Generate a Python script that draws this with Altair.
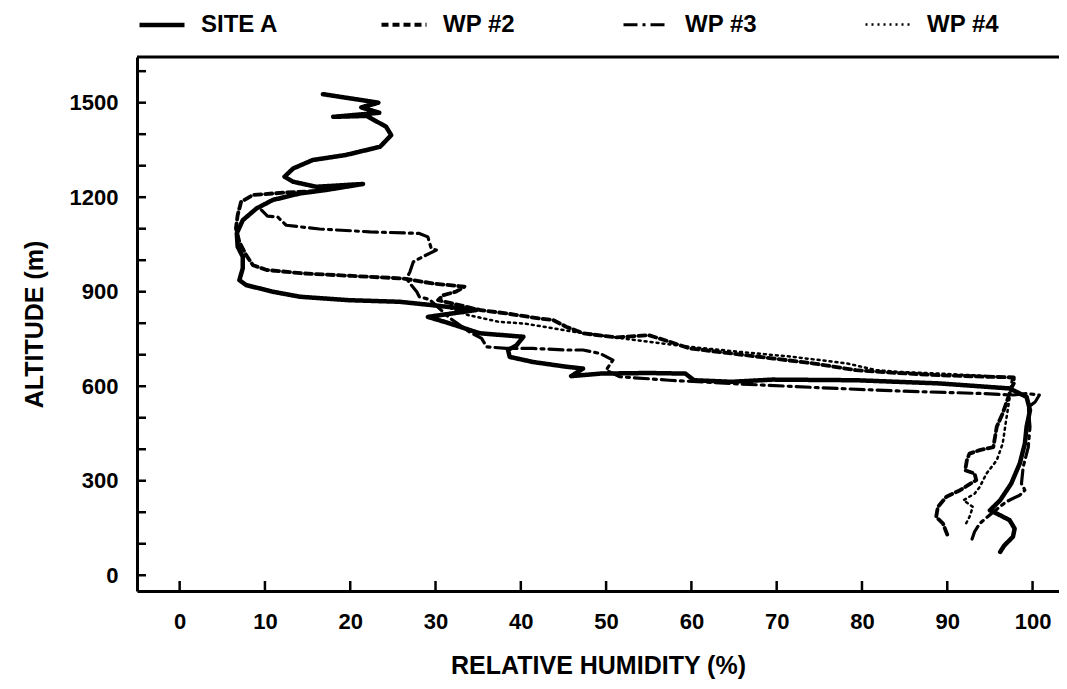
import altair as alt
import pandas as pd

# ---- data (relative humidity %, altitude m), traced top -> bottom ----
site_a_rh = [16.8, 23.3, 21.3, 23.4, 18.0, 21.9, 24.2, 24.8, 23.5, 19.5, 15.6, 13.3, 12.3, 13.3, 16.0, 21.5, 17.2,
             14.1, 10.9, 9.0, 7.4, 6.7, 6.8, 7.4, 7.4, 7.0, 7.8, 10.9, 14.1, 19.9, 25.8, 29.7, 34.8, 29.1, 31.7,
             35.2, 40.3, 39.5, 38.5, 38.7, 41.4, 45.3, 47.3, 45.9, 49.3, 55.0, 59.3, 60.3, 64.7, 69.5, 79.3, 89.0,
             97.3, 99.3, 99.7, 99.3, 99.1, 98.5, 97.5, 96.2, 95.0, 95.8, 97.3, 97.9, 97.7, 96.7, 96.2]
site_a_alt = [1527, 1500, 1485, 1468, 1455, 1458, 1424, 1397, 1360, 1334, 1318, 1291, 1265, 1249, 1233, 1242, 1223,
              1212, 1191, 1164, 1127, 1085, 1043, 1011, 974, 937, 921, 900, 884, 873, 868, 857, 842, 820, 799,
              768, 757, 730, 715, 693, 677, 662, 656, 632, 640, 642, 640, 619, 614, 621, 619, 609,
              593, 566, 524, 471, 418, 355, 291, 238, 206, 196, 175, 148, 122, 95, 74]

wp2_rh = [16.0, 12.5, 8.6, 7.2, 6.8, 6.6, 7.0, 7.8, 8.6, 10.2, 14.5, 20.3, 26.2, 29.7, 33.4, 32.4, 30.9, 30.3,
          35.2, 38.3, 42.2, 43.8, 45.3, 47.3, 51.2, 55.0, 56.9, 59.8, 64.7, 69.6, 74.4, 79.3, 84.1, 89.0, 94.8,
          97.8, 97.8, 97.5, 96.9, 96.5, 95.8, 95.4, 93.8, 92.6, 92.3, 92.1, 93.2, 93.4, 91.5, 89.9, 88.9, 88.7,
          89.5, 90.1]
wp2_alt = [1219, 1215, 1207, 1185, 1143, 1101, 1058, 1016, 984, 969, 958, 950, 942, 926, 916, 900, 889, 873,
           842, 831, 815, 810, 789, 768, 755, 762, 746, 720, 704, 688, 672, 651, 642, 635, 630,
           628, 609, 593, 545, 514, 471, 407, 397, 386, 365, 333, 323, 302, 270, 249, 217, 185,
           164, 122]

wp3_rh = [9.6, 10.3, 11.5, 12.5, 16.4, 22.3, 28.1, 29.1, 29.5, 30.1, 28.5, 27.4, 27.0, 26.6, 27.0, 27.8, 28.1,
          29.3, 31.7, 34.0, 35.4, 36.0, 38.3, 41.4, 45.3, 47.3, 49.3, 50.8, 50.0, 51.6, 57.4, 65.7, 74.4, 84.1,
          93.9, 97.8, 99.3, 100.8, 100.3, 99.5, 99.7, 99.5, 98.9, 98.7, 99.1, 98.5, 96.9, 95.4, 93.8, 93.2, 92.8]
wp3_alt = [1159, 1140, 1137, 1111, 1099, 1090, 1085, 1074, 1037, 1032, 1011, 995, 963, 942, 926, 900, 884,
           875, 816, 772, 752, 725, 720, 720, 715, 715, 704, 683, 651, 630, 619, 607, 596, 585,
           577, 572, 577, 572, 550, 534, 471, 407, 344, 291, 270, 254, 233, 201, 164, 138, 106]

wp4_rh = [31.7, 33.8, 37.5, 40.4, 46.2, 53.0, 59.8, 65.7, 72.0, 78.3, 81.7, 84.1, 89.1, 95.0, 97.6, 97.3, 96.9,
          96.5, 95.8, 94.6, 93.8, 93.2, 91.9, 93.0, 92.6, 92.1]
wp4_alt = [848, 826, 804, 799, 773, 748, 725, 709, 693, 672, 651, 646, 640, 632, 626, 561, 492,
           418, 365, 323, 280, 259, 238, 217, 185, 159]

series_names = ["SITE A", "WP #2", "WP #3", "WP #4"]
dash_styles = [[1, 0], [7, 4], [14, 5, 3, 5], [2, 4]]
line_widths = [4.5, 2.5, 2.5, 2.5]

x_ticks = list(range(0, 101, 10))
y_ticks = list(range(0, 1601, 100))
y_labels = list(range(0, 1501, 300))

rows = []
for name, rh, alt_m in zip(series_names, [site_a_rh, wp2_rh, wp3_rh, wp4_rh],
                           [site_a_alt, wp2_alt, wp3_alt, wp4_alt]):
    for i, (a, b) in enumerate(zip(rh, alt_m)):
        rows.append({"series": name, "rh": a, "alt": b, "i": i})
df = pd.DataFrame(rows)

W, H = 922, 534
FONT = "Liberation Sans"

xscale = alt.Scale(domain=[-5, 103.1], nice=False, zero=False)
yscale = alt.Scale(domain=[-50, 1645], nice=False, zero=False)

lines = alt.Chart(df).mark_line(color="black", strokeCap="round", strokeJoin="round").encode(
    x=alt.X("rh:Q", scale=xscale,
            axis=alt.Axis(title="RELATIVE HUMIDITY (%)", values=x_ticks, format="d", ticks=False,
                          grid=False, labelPadding=20, titlePadding=21)),
    y=alt.Y("alt:Q", scale=yscale,
            axis=alt.Axis(title="ALTITUDE (m)", values=y_labels, format="d", ticks=False,
                          grid=False, labelPadding=19, titlePadding=22)),
    order=alt.Order("i:Q"),
    strokeDash=alt.StrokeDash("series:N",
                              scale=alt.Scale(domain=series_names, range=dash_styles),
                              legend=alt.Legend(title=None)),
    strokeWidth=alt.StrokeWidth("series:N",
                                scale=alt.Scale(domain=series_names, range=line_widths),
                                legend=None),
)

xt = alt.Chart(pd.DataFrame({"v": x_ticks})).mark_rule(color="black", strokeWidth=2.5).encode(
    x=alt.X("v:Q", scale=xscale), y=alt.value(H), y2=alt.value(H - 10))
yt = alt.Chart(pd.DataFrame({"v": y_ticks})).mark_rule(color="black", strokeWidth=2.5).encode(
    y=alt.Y("v:Q", scale=yscale), x=alt.value(0), x2=alt.value(9))
top_line = alt.Chart(pd.DataFrame({"v": [0]})).mark_rule(color="black", strokeWidth=3).encode(
    y=alt.value(0), x=alt.value(0), x2=alt.value(W))

chart = alt.layer(lines, xt, yt, top_line).properties(
    width=W, height=H,
    background="white",
    autosize=alt.AutoSizeParams(type="none"),
    padding={"left": 129, "top": 49, "right": 0, "bottom": 90},
).configure_view(
    stroke=None
).configure_axis(
    domainColor="black", domainWidth=3,
    labelFont=FONT, labelFontSize=22, labelFontWeight="bold", labelColor="black",
    titleFont=FONT, titleFontSize=25, titleFontWeight="bold", titleColor="black",
).configure_legend(
    orient="none", legendX=0, legendY=-57, direction="horizontal", columns=4, gridAlign="all",
    columnPadding=94, symbolType="stroke", symbolSize=2025, symbolStrokeWidth=3,
    symbolStrokeColor="black", labelFont=FONT, labelFontSize=24, labelFontWeight="bold",
    labelColor="black", labelOffset=14, padding=0,
)

chart.save("out.html", embed_options={"renderer": "svg", "actions": False})
